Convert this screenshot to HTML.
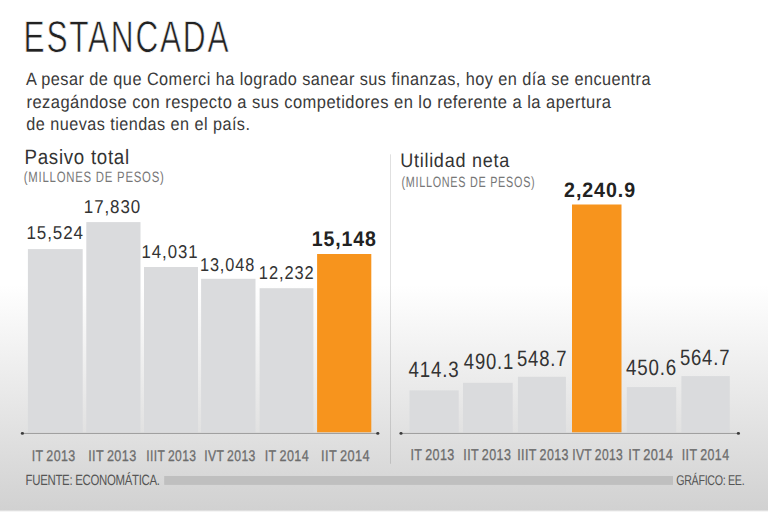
<!DOCTYPE html><html><head><meta charset="utf-8"><style>html,body{margin:0;padding:0;background:#fff}svg{display:block}text{font-family:"Liberation Sans",Arial,sans-serif;text-rendering:geometricPrecision}</style></head><body>
<svg width="768" height="512" viewBox="0 0 768 512">
<defs>
<linearGradient id="bgv" gradientUnits="userSpaceOnUse" x1="0" y1="0" x2="0" y2="511">
<stop offset="0" stop-color="#ffffff"/><stop offset="0.557" stop-color="#ffffff"/><stop offset="1" stop-color="#d1d1d1"/>
</linearGradient>
</defs>
<rect x="0" y="0" width="768" height="512" fill="url(#bgv)"/>
<rect x="0" y="510.6" width="768" height="1.4" fill="#f5f5f5"/>
<rect x="27.9" y="249.1" width="54.8" height="183.2" fill="#dadbdd"/>
<rect x="86.3" y="222.1" width="54.2" height="210.2" fill="#dadbdd"/>
<rect x="144.0" y="267.0" width="54.0" height="165.3" fill="#dadbdd"/>
<rect x="201.1" y="278.8" width="54.4" height="153.5" fill="#dadbdd"/>
<rect x="259.6" y="288.2" width="53.8" height="144.1" fill="#dadbdd"/>
<rect x="317.1" y="254.0" width="54.2" height="178.3" fill="#f7941d"/>
<rect x="409.5" y="390.4" width="49.2" height="41.9" fill="#dadbdd"/>
<rect x="463.0" y="382.8" width="49.7" height="49.5" fill="#dadbdd"/>
<rect x="517.9" y="376.8" width="48.0" height="55.5" fill="#dadbdd"/>
<rect x="572.0" y="204.5" width="49.5" height="227.8" fill="#f7941d"/>
<rect x="626.8" y="387.1" width="49.4" height="45.2" fill="#dadbdd"/>
<rect x="681.4" y="376.1" width="48.4" height="56.2" fill="#dadbdd"/>
<rect x="22.4" y="432.90" width="355.4" height="1" fill="#999"/>
<rect x="401" y="432.90" width="337.4" height="1" fill="#999"/>
<ellipse cx="22.4" cy="433.40" rx="1.6" ry="1.4" fill="#3a3a3a"/>
<ellipse cx="377.8" cy="433.40" rx="1.6" ry="1.4" fill="#3a3a3a"/>
<ellipse cx="401.0" cy="433.40" rx="1.6" ry="1.4" fill="#3a3a3a"/>
<ellipse cx="738.4" cy="433.40" rx="1.6" ry="1.4" fill="#3a3a3a"/>
<rect x="390" y="154.3" width="1" height="309.5" fill="#000" fill-opacity="0.12"/>
<rect x="164.2" y="476.0" width="508.8" height="8.9" fill="#bfbfbf"/>
<text x="23.56" y="52.00" font-size="44.54" font-weight="400" fill="#222" textLength="206.74" lengthAdjust="spacingAndGlyphs" stroke="#fff" stroke-width="0.7" letter-spacing="2.5">ESTANCADA</text>
<text x="25.93" y="85.00" font-size="17.92" font-weight="400" fill="#3a3a3a" textLength="625.09" lengthAdjust="spacingAndGlyphs" letter-spacing="0.5">A pesar de que Comerci ha logrado sanear sus finanzas, hoy en día se encuentra</text>
<text x="26.48" y="108.00" font-size="17.92" font-weight="400" fill="#3a3a3a" textLength="584.84" lengthAdjust="spacingAndGlyphs" letter-spacing="0.5">rezagándose con respecto a sus competidores en lo referente a la apertura</text>
<text x="26.37" y="130.00" font-size="17.92" font-weight="400" fill="#3a3a3a" textLength="224.00" lengthAdjust="spacingAndGlyphs" letter-spacing="0.5">de nuevas tiendas en el país.</text>
<text x="24.51" y="164.00" font-size="20.82" font-weight="400" fill="#333" textLength="105.38" lengthAdjust="spacingAndGlyphs" letter-spacing="0.8">Pasivo total</text>
<text x="23.78" y="182.00" font-size="15.00" font-weight="400" fill="#777" textLength="140.80" lengthAdjust="spacingAndGlyphs" letter-spacing="1">(MILLONES DE PESOS)</text>
<text x="400.18" y="167.00" font-size="19.75" font-weight="400" fill="#333" textLength="109.73" lengthAdjust="spacingAndGlyphs" letter-spacing="0.8">Utilidad neta</text>
<text x="401.40" y="187.00" font-size="14.90" font-weight="400" fill="#777" textLength="134.01" lengthAdjust="spacingAndGlyphs" letter-spacing="1">(MILLONES DE PESOS)</text>
<text x="26.41" y="239.00" font-size="18.59" font-weight="400" fill="#333" textLength="57.46" lengthAdjust="spacingAndGlyphs" letter-spacing="1.0">15,524</text>
<text x="83.86" y="213.00" font-size="18.59" font-weight="400" fill="#333" textLength="57.21" lengthAdjust="spacingAndGlyphs" letter-spacing="1.0">17,830</text>
<text x="141.60" y="258.00" font-size="18.59" font-weight="400" fill="#333" textLength="56.81" lengthAdjust="spacingAndGlyphs" letter-spacing="1.0">14,031</text>
<text x="199.96" y="271.00" font-size="18.59" font-weight="400" fill="#333" textLength="55.12" lengthAdjust="spacingAndGlyphs" letter-spacing="1.0">13,048</text>
<text x="258.87" y="279.00" font-size="18.59" font-weight="400" fill="#333" textLength="55.65" lengthAdjust="spacingAndGlyphs" letter-spacing="1.0">12,232</text>
<text x="311.64" y="246.00" font-size="21.23" font-weight="700" fill="#222" textLength="65.24" lengthAdjust="spacingAndGlyphs" letter-spacing="1.0">15,148</text>
<text x="408.60" y="377.00" font-size="22.27" font-weight="400" fill="#333" textLength="50.94" lengthAdjust="spacingAndGlyphs" letter-spacing="1.0">414.3</text>
<text x="463.87" y="369.00" font-size="22.27" font-weight="400" fill="#333" textLength="50.29" lengthAdjust="spacingAndGlyphs" letter-spacing="1.0">490.1</text>
<text x="517.01" y="366.00" font-size="22.27" font-weight="400" fill="#333" textLength="50.32" lengthAdjust="spacingAndGlyphs" letter-spacing="1.0">548.7</text>
<text x="564.04" y="197.00" font-size="20.89" font-weight="700" fill="#222" textLength="72.03" lengthAdjust="spacingAndGlyphs" letter-spacing="1.0">2,240.9</text>
<text x="625.95" y="375.00" font-size="22.27" font-weight="400" fill="#333" textLength="50.99" lengthAdjust="spacingAndGlyphs" letter-spacing="1.0">450.6</text>
<text x="679.89" y="365.00" font-size="22.27" font-weight="400" fill="#333" textLength="50.42" lengthAdjust="spacingAndGlyphs" letter-spacing="1.0">564.7</text>
<text x="31.63" y="461.00" font-size="15.53" font-weight="400" fill="#6c6c6c" textLength="43.98" lengthAdjust="spacingAndGlyphs" letter-spacing="0.5" word-spacing="-1" stroke="#6c6c6c" stroke-width="0.3">IT 2013</text>
<text x="88.18" y="461.00" font-size="15.53" font-weight="400" fill="#6c6c6c" textLength="48.39" lengthAdjust="spacingAndGlyphs" letter-spacing="0.5" word-spacing="-1" stroke="#6c6c6c" stroke-width="0.3">IIT 2013</text>
<text x="146.27" y="461.00" font-size="15.53" font-weight="400" fill="#6c6c6c" textLength="50.11" lengthAdjust="spacingAndGlyphs" letter-spacing="0.5" word-spacing="-1" stroke="#6c6c6c" stroke-width="0.3">IIIT 2013</text>
<text x="204.15" y="461.00" font-size="15.53" font-weight="400" fill="#6c6c6c" textLength="51.62" lengthAdjust="spacingAndGlyphs" letter-spacing="0.5" word-spacing="-1" stroke="#6c6c6c" stroke-width="0.3">IVT 2013</text>
<text x="264.70" y="461.00" font-size="15.53" font-weight="400" fill="#6c6c6c" textLength="44.48" lengthAdjust="spacingAndGlyphs" letter-spacing="0.5" word-spacing="-1" stroke="#6c6c6c" stroke-width="0.3">IT 2014</text>
<text x="321.02" y="461.00" font-size="15.53" font-weight="400" fill="#6c6c6c" textLength="48.98" lengthAdjust="spacingAndGlyphs" letter-spacing="0.5" word-spacing="-1" stroke="#6c6c6c" stroke-width="0.3">IIT 2014</text>
<text x="410.43" y="460.00" font-size="15.63" font-weight="400" fill="#6c6c6c" textLength="44.33" lengthAdjust="spacingAndGlyphs" letter-spacing="0.5" word-spacing="-1" stroke="#6c6c6c" stroke-width="0.3">IT 2013</text>
<text x="463.28" y="460.00" font-size="15.63" font-weight="400" fill="#6c6c6c" textLength="47.97" lengthAdjust="spacingAndGlyphs" letter-spacing="0.5" word-spacing="-1" stroke="#6c6c6c" stroke-width="0.3">IIT 2013</text>
<text x="517.20" y="460.00" font-size="15.63" font-weight="400" fill="#6c6c6c" textLength="51.72" lengthAdjust="spacingAndGlyphs" letter-spacing="0.5" word-spacing="-1" stroke="#6c6c6c" stroke-width="0.3">IIIT 2013</text>
<text x="572.19" y="460.00" font-size="15.63" font-weight="400" fill="#6c6c6c" textLength="51.01" lengthAdjust="spacingAndGlyphs" letter-spacing="0.5" word-spacing="-1" stroke="#6c6c6c" stroke-width="0.3">IVT 2013</text>
<text x="628.19" y="460.00" font-size="15.63" font-weight="400" fill="#6c6c6c" textLength="45.18" lengthAdjust="spacingAndGlyphs" letter-spacing="0.5" word-spacing="-1" stroke="#6c6c6c" stroke-width="0.3">IT 2014</text>
<text x="681.70" y="460.00" font-size="15.63" font-weight="400" fill="#6c6c6c" textLength="47.76" lengthAdjust="spacingAndGlyphs" letter-spacing="0.5" word-spacing="-1" stroke="#6c6c6c" stroke-width="0.3">IIT 2014</text>
<text x="25.58" y="485.00" font-size="14.90" font-weight="400" fill="#555" textLength="134.12" lengthAdjust="spacingAndGlyphs" letter-spacing="-0.4">FUENTE: ECONOMÁTICA.</text>
<text x="676.20" y="485.00" font-size="14.15" font-weight="400" fill="#555" textLength="68.17" lengthAdjust="spacingAndGlyphs" letter-spacing="-0.4">GRÁFICO: EE.</text>
</svg></body></html>
